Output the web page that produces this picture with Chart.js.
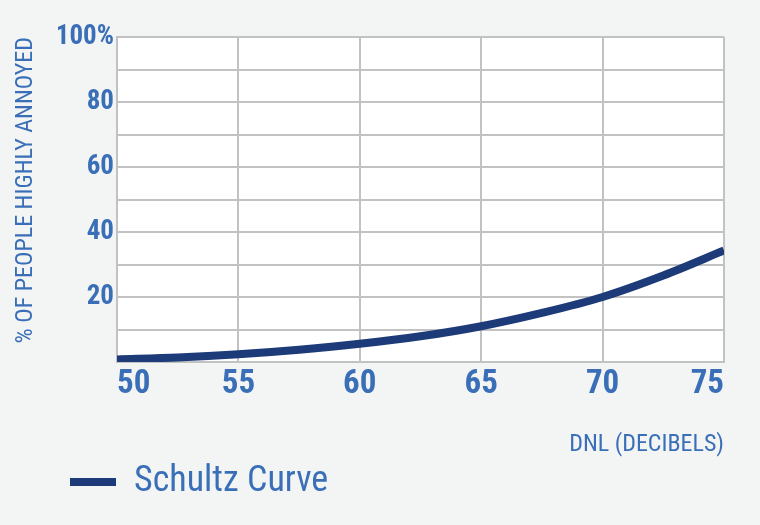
<!DOCTYPE html>
<html>
<head>
<meta charset="utf-8">
<script src="https://cdn.jsdelivr.net/npm/chart.js@4"></script>
<style>
  html, body { margin: 0; padding: 0; background: #f3f5f5; }
  #wrap { width: 760px; height: 525px; }
</style>
</head>
<body>
<div id="wrap"><canvas id="schultzChart"></canvas></div>
<script>
// values
const dnl = [50, 52.5, 55, 57.5, 60, 62.5, 65, 67.5, 70, 72.5, 75];
const annoyed = [0.8, 1.4, 2.4, 3.8, 5.6, 7.9, 11, 15.1, 20, 26.6, 34.3];
const xTicks = [50, 55, 60, 65, 70, 75];
const yLabels = [20, 40, 60, 80, 100];

const blue = '#3a6fb7';
const navy = '#1d3b78';
const gridGrey = '#c2c2c2';
const font = "'Roboto Condensed', 'DejaVu Sans Condensed', sans-serif";

// white plot area behind the grid
const plotBackground = {
  id: 'plotBackground',
  beforeDraw(chart) {
    const { ctx, chartArea: a } = chart;
    ctx.save();
    ctx.fillStyle = '#ffffff';
    ctx.fillRect(a.left, a.top, a.right - a.left, a.bottom - a.top);
    ctx.restore();
  }
};

new Chart(document.getElementById('schultzChart'), {
  type: 'line',
  data: {
    datasets: [{
      label: 'Schultz Curve',
      data: dnl.map((x, i) => ({ x: x, y: annoyed[i] })),
      borderColor: navy,
      backgroundColor: navy,
      borderWidth: 8,
      pointRadius: 0,
      cubicInterpolationMode: 'monotone'
    }]
  },
  options: {
    responsive: true,
    maintainAspectRatio: false,
    animation: false,
    layout: { padding: { left: 58, right: 36, top: 37, bottom: 15 } },
    plugins: {
      tooltip: { enabled: false },
      legend: {
        position: 'bottom',
        align: 'start',
        labels: {
          color: blue,
          boxWidth: 46,
          boxHeight: 8,
          padding: 12,
          font: { family: font, size: 36 },
          generateLabels(chart) {
            // plain filled bar, no thick outline from the dataset border
            return Chart.defaults.plugins.legend.labels.generateLabels(chart)
              .map(item => Object.assign(item, { lineWidth: 0 }));
          }
        }
      }
    },
    scales: {
      x: {
        type: 'linear',
        min: 50,
        max: 75,
        afterBuildTicks(scale) {
          scale.ticks = xTicks.map(v => ({ value: v }));
        },
        afterFit(scale) { scale.height = 90; },
        grid: { color: gridGrey, lineWidth: 2, drawTicks: false },
        border: { color: gridGrey, width: 2 },
        ticks: {
          align: 'inner',
          padding: 3,
          color: blue,
          font: { family: font, size: 33, weight: 'bold' }
        },
        title: {
          display: true,
          text: 'DNL (DECIBELS)',
          align: 'end',
          color: blue,
          padding: { top: 0, bottom: -7 },
          font: { family: font, size: 24 }
        }
      },
      y: {
        min: 0,
        max: 100,
        afterFit(scale) { scale.width = 59; },
        grid: { color: gridGrey, lineWidth: 2, drawTicks: false },
        border: { color: gridGrey, width: 2 },
        ticks: {
          stepSize: 10,
          autoSkip: false,
          padding: 3,
          color: blue,
          font: { family: font, size: 27, weight: 'bold' },
          callback(v) {
            if (!yLabels.includes(v)) return '';
            return v === 100 ? v + '%' : v;
          }
        },
        title: {
          display: true,
          text: '% OF PEOPLE HIGHLY ANNOYED',
          align: 'end',
          color: blue,
          padding: { top: -46, bottom: 0 },
          font: { family: font, size: 24 }
        }
      }
    }
  },
  plugins: [plotBackground]
});
</script>
</body>
</html>
